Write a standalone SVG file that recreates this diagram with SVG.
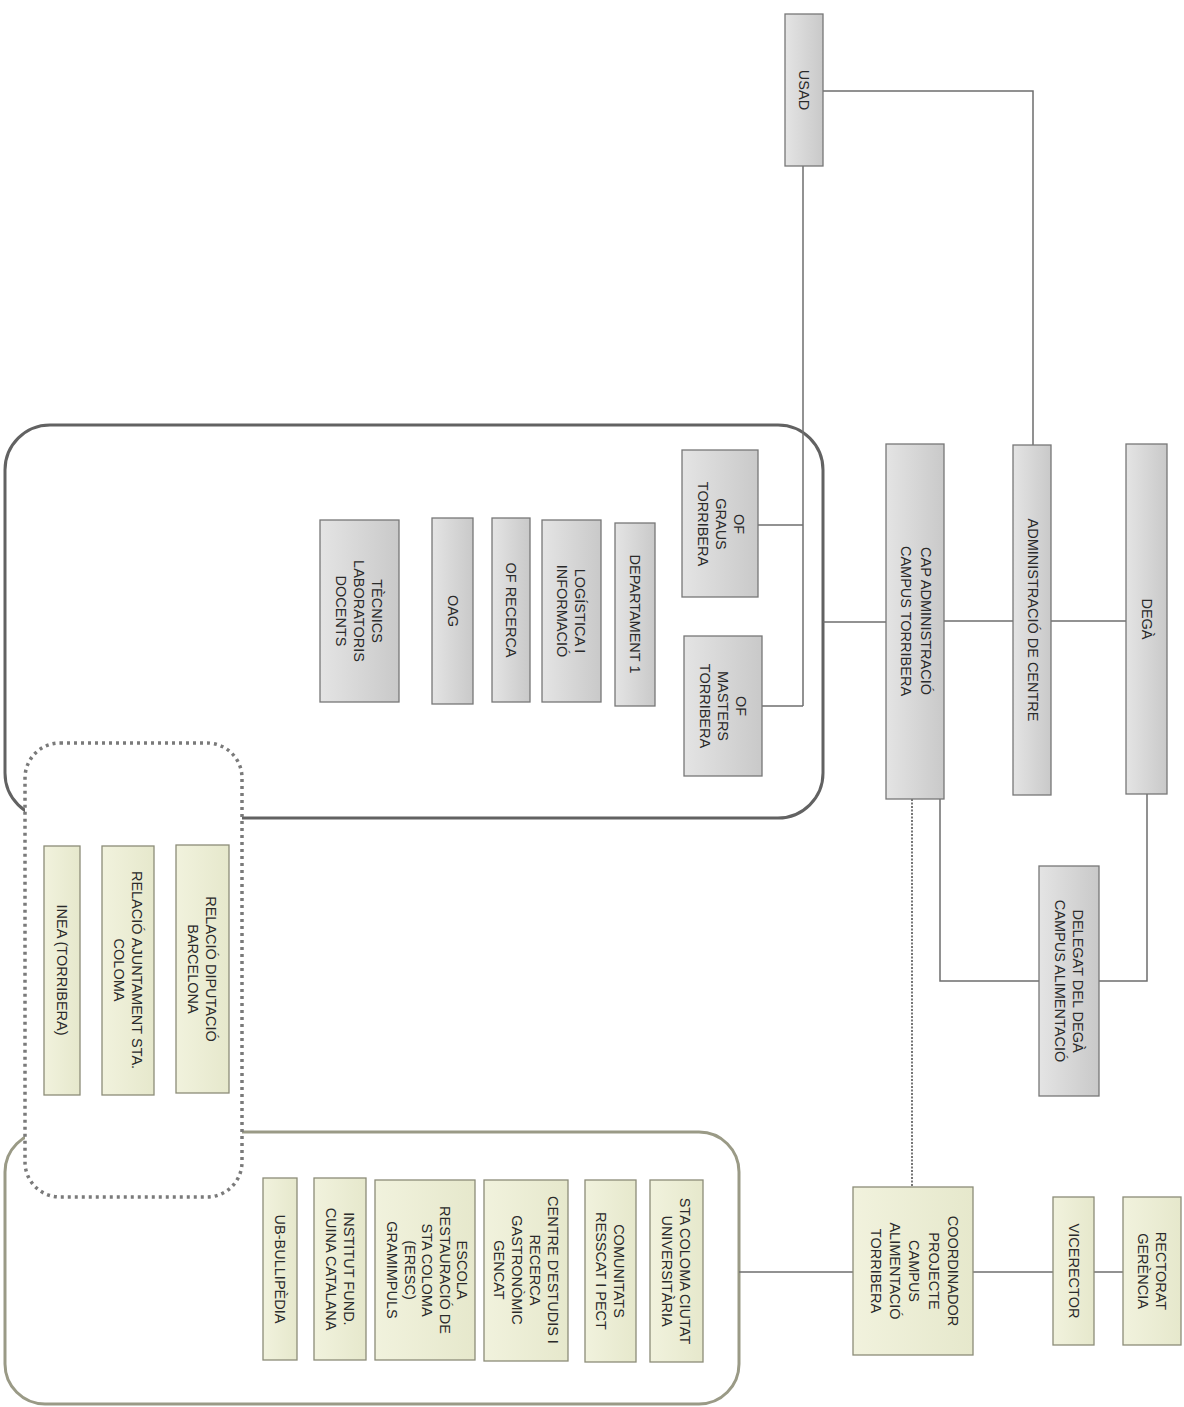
<svg xmlns="http://www.w3.org/2000/svg" width="1184" height="1407" viewBox="0 0 1184 1407">
<defs>
<linearGradient id="gg" x1="0" y1="0" x2="1" y2="0">
<stop offset="0" stop-color="#e4e4e4"/>
<stop offset="1" stop-color="#c9c9c9"/>
</linearGradient>
<linearGradient id="yg" x1="0" y1="0" x2="1" y2="0">
<stop offset="0" stop-color="#f1f2dd"/>
<stop offset="1" stop-color="#e6e8cc"/>
</linearGradient>
</defs>
<style>
.g{fill:url(#gg);stroke:#777;stroke-width:1.3}
.y{fill:url(#yg);stroke:#8c8c78;stroke-width:1.3}
.t{font-family:"Liberation Sans",Arial,sans-serif;font-size:14.5px;fill:#2a2a2a;text-anchor:middle}
.c{fill:none;stroke:#6e6e6e;stroke-width:1.5}
.d{fill:none;stroke:#555;stroke-width:1.6;stroke-dasharray:2,1.5}
</style>
<rect width="1184" height="1407" fill="#fff"/>
<!-- containers -->
<g id="container-torribera">
<rect x="5" y="425" width="818" height="393" rx="45" ry="45" fill="none" stroke="#626262" stroke-width="3"/>
</g>
<g id="container-santa-coloma">
<rect x="5" y="1132" width="734" height="272" rx="40" ry="40" fill="none" stroke="#9a9a86" stroke-width="3"/>
</g>
<g id="container-relacions">
<rect x="25" y="743" width="217" height="454" rx="35" ry="35" fill="#fff" stroke="#7a7a7a" stroke-width="3.5" stroke-dasharray="3,4"/>
</g>
<!-- connectors -->
<g id="connectors">
<polyline class="c" points="823,91 1033,91 1033,445"/>
<polyline class="c" points="803,166 803,706"/>
<line class="c" x1="758" y1="525" x2="803" y2="525"/>
<line class="c" x1="762" y1="706" x2="803" y2="706"/>
<line class="c" x1="823" y1="622" x2="886" y2="622"/>
<line class="c" x1="944" y1="621" x2="1013" y2="621"/>
<line class="c" x1="1051" y1="621" x2="1126" y2="621"/>
<polyline class="c" points="1147,794 1147,981 1099,981"/>
<polyline class="c" points="1039,981 940,981 940,799"/>
<line class="d" x1="912" y1="799" x2="912" y2="1187"/>
<line class="c" x1="739" y1="1272" x2="853" y2="1272"/>
<line class="c" x1="973" y1="1272" x2="1053" y2="1272"/>
<line class="c" x1="1094" y1="1272" x2="1123" y2="1272"/>
</g>
<!-- gray nodes -->
<g id="usad"><rect class="g" x="785" y="14" width="38" height="152"/>
<text class="t" transform="translate(804,90) rotate(90)"><tspan x="0" y="5">USAD</tspan></text></g>
<g id="of-graus"><rect class="g" x="682" y="450" width="76" height="147"/>
<text class="t" transform="translate(721,524) rotate(90)"><tspan x="0" y="-13">OF</tspan><tspan x="0" y="5">GRAUS</tspan><tspan x="0" y="23">TORRIBERA</tspan></text></g>
<g id="of-masters"><rect class="g" x="684" y="636" width="78" height="140"/>
<text class="t" transform="translate(723,706) rotate(90)"><tspan x="0" y="-13">OF</tspan><tspan x="0" y="5">MASTERS</tspan><tspan x="0" y="23">TORRIBERA</tspan></text></g>
<g id="cap-administracio"><rect class="g" x="886" y="444" width="58" height="355"/>
<text class="t" transform="translate(916,621) rotate(90)"><tspan x="0" y="-5">CAP ADMINISTRACIÓ</tspan><tspan x="0" y="15">CAMPUS TORRIBERA</tspan></text></g>
<g id="administracio-centre"><rect class="g" x="1013" y="445" width="38" height="350"/>
<text class="t" transform="translate(1033,620) rotate(90)"><tspan x="0" y="5">ADMINISTRACIÓ DE CENTRE</tspan></text></g>
<g id="dega"><rect class="g" x="1126" y="444" width="41" height="350"/>
<text class="t" transform="translate(1147,619) rotate(90)"><tspan x="0" y="5">DEGÀ</tspan></text></g>
<g id="departament-1"><rect class="g" x="615" y="523" width="40" height="183"/>
<text class="t" transform="translate(635,614) rotate(90)"><tspan x="0" y="5">DEPARTAMENT 1</tspan></text></g>
<g id="logistica"><rect class="g" x="542" y="520" width="59" height="182"/>
<text class="t" transform="translate(571,611) rotate(90)"><tspan x="0" y="-4">LOGÍSTICA I</tspan><tspan x="0" y="14">INFORMACIÓ</tspan></text></g>
<g id="of-recerca"><rect class="g" x="492" y="518" width="38" height="184"/>
<text class="t" transform="translate(511,610) rotate(90)"><tspan x="0" y="5">OF RECERCA</tspan></text></g>
<g id="oag"><rect class="g" x="432" y="518" width="41" height="186"/>
<text class="t" transform="translate(453,611) rotate(90)"><tspan x="0" y="5">OAG</tspan></text></g>
<g id="tecnics"><rect class="g" x="320" y="520" width="79" height="182"/>
<text class="t" transform="translate(359,611) rotate(90)"><tspan x="0" y="-13">TÈCNICS</tspan><tspan x="0" y="5">LABORATORIS</tspan><tspan x="0" y="23">DOCENTS</tspan></text></g>
<g id="delegat-dega"><rect class="g" x="1039" y="866" width="60" height="230"/>
<text class="t" transform="translate(1069,981) rotate(90)"><tspan x="0" y="-4">DELEGAT DEL DEGÀ</tspan><tspan x="0" y="14">CAMPUS ALIMENTACIÓ</tspan></text></g>
<!-- yellow nodes -->
<g id="relacio-diputacio"><rect class="y" x="176" y="845" width="53" height="248"/>
<text class="t" transform="translate(202,969) rotate(90)"><tspan x="0" y="-4">RELACIÓ DIPUTACIÓ</tspan><tspan x="0" y="14">BARCELONA</tspan></text></g>
<g id="relacio-ajuntament"><rect class="y" x="102" y="846" width="52" height="249"/>
<text class="t" transform="translate(128,970) rotate(90)"><tspan x="0" y="-4">RELACIÓ AJUNTAMENT STA.</tspan><tspan x="0" y="14">COLOMA</tspan></text></g>
<g id="inea"><rect class="y" x="44" y="846" width="36" height="249"/>
<text class="t" transform="translate(62,970) rotate(90)"><tspan x="0" y="5">INEA (TORRIBERA)</tspan></text></g>
<g id="sta-coloma"><rect class="y" x="650" y="1180" width="53" height="182"/>
<text class="t" transform="translate(676,1271) rotate(90)"><tspan x="0" y="-4">STA COLOMA CIUTAT</tspan><tspan x="0" y="14">UNIVERSITÀRIA</tspan></text></g>
<g id="comunitats"><rect class="y" x="585" y="1180" width="51" height="182"/>
<text class="t" transform="translate(610,1271) rotate(90)"><tspan x="0" y="-4">COMUNITATS</tspan><tspan x="0" y="14">RESSCAT I PECT</tspan></text></g>
<g id="centre-estudis"><rect class="y" x="484" y="1180" width="84" height="181"/>
<text class="t" transform="translate(526,1270) rotate(90)"><tspan x="0" y="-22">CENTRE D'ESTUDIS I</tspan><tspan x="0" y="-4">RECERCA</tspan><tspan x="0" y="14">GASTRONÒMIC</tspan><tspan x="0" y="32">GENCAT</tspan></text></g>
<g id="escola"><rect class="y" x="375" y="1180" width="100" height="180"/>
<text class="t" transform="translate(427,1270) rotate(90)"><tspan x="0" y="-30">ESCOLA</tspan><tspan x="0" y="-12.5">RESTAURACIÓ DE</tspan><tspan x="0" y="5">STA COLOMA</tspan><tspan x="0" y="22.5">(ERESC)</tspan><tspan x="0" y="40">GRAMIMPULS</tspan></text></g>
<g id="institut"><rect class="y" x="314" y="1178" width="52" height="182"/>
<text class="t" transform="translate(340,1269) rotate(90)"><tspan x="0" y="-4">INSTITUT FUND.</tspan><tspan x="0" y="14">CUINA CATALANA</tspan></text></g>
<g id="ub-bullipedia"><rect class="y" x="263" y="1178" width="34" height="182"/>
<text class="t" transform="translate(280,1269) rotate(90)"><tspan x="0" y="5">UB-BULLIPÈDIA</tspan></text></g>
<g id="coordinador"><rect class="y" x="853" y="1187" width="120" height="168"/>
<text class="t" transform="translate(914,1271) rotate(90)"><tspan x="0" y="-34">COORDINADOR</tspan><tspan x="0" y="-15">PROJECTE</tspan><tspan x="0" y="5">CAMPUS</tspan><tspan x="0" y="24">ALIMENTACIÓ</tspan><tspan x="0" y="43">TORRIBERA</tspan></text></g>
<g id="vicerector"><rect class="y" x="1053" y="1197" width="41" height="148"/>
<text class="t" transform="translate(1074,1271) rotate(90)"><tspan x="0" y="5">VICERECTOR</tspan></text></g>
<g id="rectorat"><rect class="y" x="1123" y="1197" width="58" height="148"/>
<text class="t" transform="translate(1152,1271) rotate(90)"><tspan x="0" y="-4">RECTORAT</tspan><tspan x="0" y="14">GERÈNCIA</tspan></text></g>
</svg>
